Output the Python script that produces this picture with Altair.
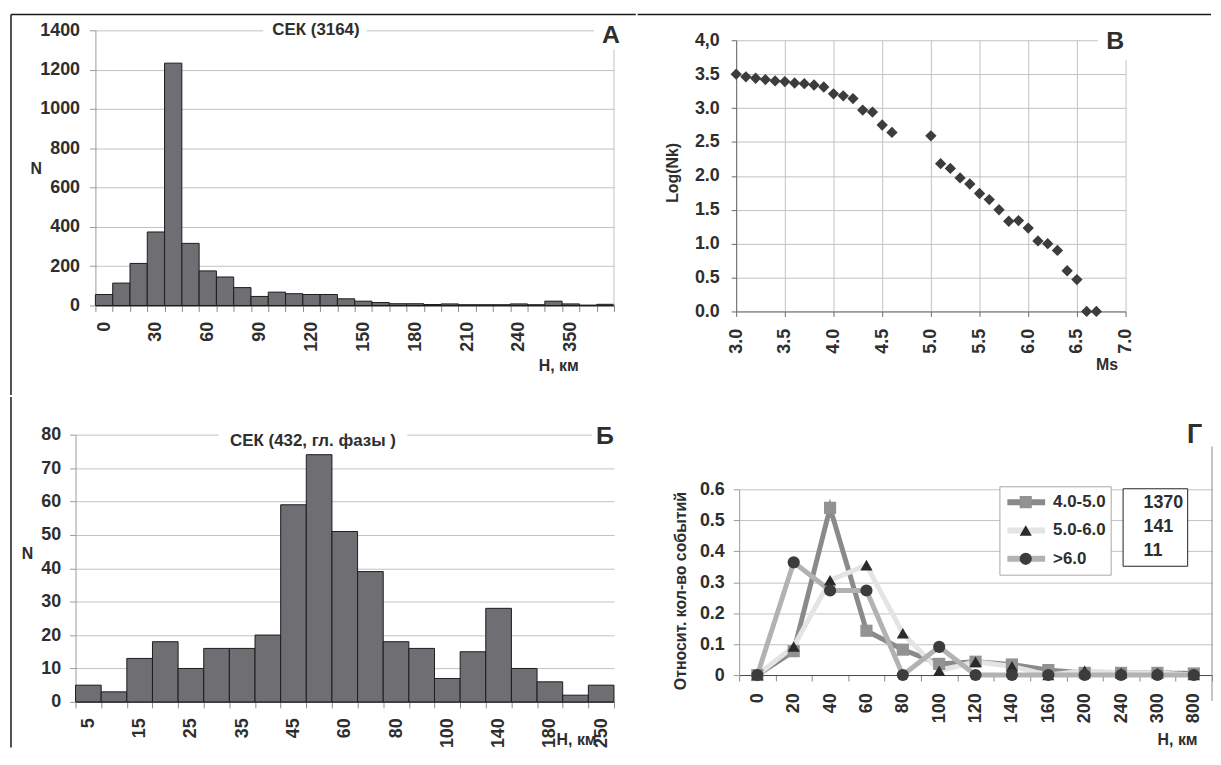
import altair as alt
import pandas as pd

FONT = "Liberation Sans"
TXT = "#2e2e2e"
GRID = "#c2c2c2"
BAR = "#6f6f73"
FRAME = "#1a1a1a"

# ---------- Panel А : depth histogram (all events) ----------
a_depth = ["0", "10", "20", "30", "40", "50", "60", "70", "80", "90", "100", "110", "120", "130",
           "140", "150", "160", "170", "180", "190", "200", "210", "220", "230", "240", "250",
           "300", "350", "400", "500"]
a_count = [56, 114, 214, 374, 1233, 316, 176, 145, 91, 46, 68, 60, 56, 56, 34, 22, 15, 9, 9, 5,
           8, 4, 4, 4, 8, 4, 22, 8, 2, 6]
a_shown = ["0", "30", "60", "90", "120", "150", "180", "210", "240", "350"]
a_yticks = [0, 200, 400, 600, 800, 1000, 1200, 1400]
a_title = "СЕК (3164)"
a_letter = "А"

# ---------- Panel В : magnitude recurrence ----------
b_ms = [3.0, 3.1, 3.2, 3.3, 3.4, 3.5, 3.6, 3.7, 3.8, 3.9, 4.0, 4.1, 4.2, 4.3, 4.4, 4.5, 4.6,
        5.0, 5.1, 5.2, 5.3, 5.4, 5.5, 5.6, 5.7, 5.8, 5.9, 6.0, 6.1, 6.2, 6.3, 6.4, 6.5, 6.6, 6.7]
b_logn = [3.50, 3.46, 3.44, 3.42, 3.40, 3.39, 3.37, 3.36, 3.34, 3.31, 3.21, 3.18, 3.14, 2.97,
          2.94, 2.75, 2.64, 2.59, 2.18, 2.11, 1.97, 1.88, 1.74, 1.65, 1.50, 1.33, 1.34, 1.23,
          1.04, 1.00, 0.90, 0.60, 0.47, 0.00, 0.00]
b_xticks = [3.0, 3.5, 4.0, 4.5, 5.0, 5.5, 6.0, 6.5, 7.0]
b_yticks = [0.0, 0.5, 1.0, 1.5, 2.0, 2.5, 3.0, 3.5, 4.0]
b_letter = "В"

# ---------- Panel Б : depth histogram (main phases) ----------
bb_depth = ["5", "10", "15", "20", "25", "30", "35", "40", "45", "50", "60", "70", "80", "90",
            "100", "120", "140", "160", "180", "200", "250"]
bb_count = [5, 3, 13, 18, 10, 16, 16, 20, 59, 74, 51, 39, 18, 16, 7, 15, 28, 10, 6, 2, 5]
bb_shown = ["5", "15", "25", "35", "45", "60", "80", "100", "140", "180", "250"]
bb_yticks = [0, 10, 20, 30, 40, 50, 60, 70, 80]
bb_title = "СЕК (432, гл. фазы )"
bb_letter = "Б"

# ---------- Panel Г : relative depth distribution by magnitude ----------
g_depth = ["0", "20", "40", "60", "80", "100", "120", "140", "160", "200", "240", "300", "800"]
g_series = ["4.0-5.0", "5.0-6.0", ">6.0"]
g_marker_keys = ["m1", "m2", "m3"]
g_counts = ["1370", "141", "11"]
g_s1 = [0.0, 0.077, 0.54, 0.143, 0.082, 0.036, 0.043, 0.034, 0.016, 0.007, 0.007, 0.007, 0.005]
g_s2 = [0.0, 0.092, 0.306, 0.355, 0.135, 0.014, 0.043, 0.028, 0.0, 0.014, 0.007, 0.007, 0.0]
g_s3 = [0.0, 0.364, 0.273, 0.273, 0.0, 0.091, 0.0, 0.0, 0.0, 0.0, 0.0, 0.0, 0.0]
g_yticks = [0.0, 0.1, 0.2, 0.3, 0.4, 0.5, 0.6]
g_line_colors = ["#8a8a8a", "#e4e4e4", "#b2b2b2"]
g_marker_colors = ["#929292", "#2a2a2a", "#3c3c3c"]
g_shapes = ["square", "triangle-up", "circle"]
g_letter = "Г"


def js_list(vals):
    return "[" + ",".join("'" + v + "'" for v in vals) + "]"


def one(t=""):
    return pd.DataFrame({"t": [t]})


def text_at(t, x, y, size, align="center"):
    return alt.Chart(one(t)).mark_text(font=FONT, fontSize=size, fontWeight="bold", color=TXT,
                                       align=align, baseline="middle").encode(
        x=alt.value(x), y=alt.value(y), text="t:N")


def white_box(x, x2, y, y2):
    return alt.Chart(one()).mark_rect(color="white").encode(
        x=alt.value(x), x2=alt.value(x2), y=alt.value(y), y2=alt.value(y2))


def vrule(x, y, y2, color, w=1.0):
    return alt.Chart(one()).mark_rule(color=color, strokeWidth=w).encode(
        x=alt.value(x), y=alt.value(y), y2=alt.value(y2))


def hrule(x, x2, y, color, w=1.0):
    return alt.Chart(one()).mark_rule(color=color, strokeWidth=w).encode(
        x=alt.value(x), x2=alt.value(x2), y=alt.value(y))


def spacer():
    return alt.Chart(one()).mark_rect(color="white").encode(
        x=alt.value(0), x2=alt.value(1), y=alt.value(0), y2=alt.value(1)
    ).properties(width=1, height=1)


# ================= Panel А =================
A_W, A_H = 522, 277
df_a = pd.DataFrame({"depth": a_depth, "count": a_count})
xa = alt.X("depth:N", sort=a_depth, scale=alt.Scale(paddingInner=0, paddingOuter=0),
           axis=alt.Axis(title="Н, км", labelAngle=270, labelAlign="right", labelBaseline="middle",
                         labelExpr="indexof(" + js_list(a_shown) + ", datum.value) >= 0 ? datum.label : ''",
                         labelOverlap=False, tickBand="extent", grid=False, domainColor="#3a3a3a",
                         tickColor="#8a8a8a", tickSize=6, labelPadding=10, titleX=486, titleY=60,
                         titleAlign="right", titleBaseline="middle", titleAngle=0))
ya = alt.Y("count:Q", scale=alt.Scale(domain=[0, 1400], nice=False),
           axis=alt.Axis(values=a_yticks, format="d", title="N", titleAngle=0, titleX=-60, titleY=139,
                         titleAlign="center", titleBaseline="middle", domainColor="#9a9a9a",
                         tickColor="#9a9a9a", tickSize=6, labelPadding=10, gridColor=GRID))
bars_a = alt.Chart(df_a).mark_bar(color=BAR, stroke="#1c1c1c", strokeWidth=1).encode(x=xa, y=ya)
chart_a = alt.layer(
    bars_a,
    white_box(169, 273, -8, 8),
    text_at(a_title, 222, 0, 17),
    white_box(502, 532, -6, 6),
    text_at(a_letter, 519, 5, 25),
    vrule(A_W, 19, A_H, GRID),
    hrule(-85, 544, -16, FRAME, 1.5),
    vrule(-85, -16, 367, FRAME, 1.5),
).properties(width=A_W, height=A_H)

# ================= Panel В =================
B_W, B_H = 392, 273
df_b = pd.DataFrame({"ms": b_ms, "logn": b_logn})
xb = alt.X("ms:Q", scale=alt.Scale(domain=[3, 7], nice=False, zero=False),
           axis=alt.Axis(values=b_xticks, format=".1f", labelAngle=270, labelAlign="right",
                         labelBaseline="middle", title="Ms", titleX=384, titleY=53, titleAlign="right",
                         titleBaseline="middle", titleAngle=0, gridColor=GRID, domainColor="#6a6a6a",
                         tickColor="#6a6a6a", tickSize=5, labelPadding=12))
yb = alt.Y("logn:Q", scale=alt.Scale(domain=[0, 4], nice=False),
           axis=alt.Axis(values=b_yticks,
                         labelExpr="datum.value == 4 ? '4,0' : format(datum.value, '.1f')",
                         title="Log(Nk)", titleX=-64, titleY=133, titleAlign="center",
                         titleBaseline="middle", titleAngle=270, gridColor=GRID,
                         domainColor="#6a6a6a", tickColor="#6a6a6a", tickSize=5, labelPadding=12))
pts_b = alt.Chart(df_b).mark_point(shape="diamond", filled=True, size=130, color="#3c3c3c",
                                    opacity=1).encode(x=xb, y=yb)
chart_b = alt.layer(
    pts_b,
    white_box(364, 402, -7, 20),
    text_at(b_letter, 381.5, 1, 25),
    hrule(-99.2, 478, -26, FRAME, 1.5),
).properties(width=B_W, height=B_H)

# ================= Panel Б =================
BB_W, BB_H = 542, 269
df_bb = pd.DataFrame({"depth": bb_depth, "count": bb_count})
xbb = alt.X("depth:N", sort=bb_depth, scale=alt.Scale(paddingInner=0, paddingOuter=0),
            axis=alt.Axis(title="Н, км", labelAngle=270, labelAlign="right", labelBaseline="middle",
                          labelExpr="indexof(" + js_list(bb_shown) + ", datum.value) >= 0 ? datum.label : ''",
                          labelOverlap=False, tickBand="extent", grid=False, domainColor="#3a3a3a",
                          tickColor="#8a8a8a", tickSize=6, labelPadding=10, titleX=524, titleY=38,
                          titleAlign="right", titleBaseline="middle", titleAngle=0))
ybb = alt.Y("count:Q", scale=alt.Scale(domain=[0, 80], nice=False),
            axis=alt.Axis(values=bb_yticks, format="d", title="N", titleAngle=0, titleX=-49,
                          titleY=120, titleAlign="center", titleBaseline="middle",
                          domainColor="#9a9a9a", tickColor="#9a9a9a", tickSize=6, labelPadding=9,
                          gridColor=GRID))
bars_bb = alt.Chart(df_bb).mark_bar(color=BAR, stroke="#1c1c1c", strokeWidth=1).encode(x=xbb, y=ybb)
chart_bb = alt.layer(
    bars_bb,
    white_box(144, 334, -5, 16),
    text_at(bb_title, 239, 6, 17),
    white_box(520, 542, -6, 6),
    text_at(bb_letter, 533, 1.5, 25),
    vrule(-65, -38, 315, FRAME, 1.5),
).properties(width=BB_W, height=BB_H)

# ================= Panel Г =================
G_W, G_H = 476, 187
rows = []
for s, mk, c, vals in zip(g_series, g_marker_keys, g_counts, [g_s1, g_s2, g_s3]):
    for d, v in zip(g_depth, vals):
        rows.append({"series": s, "marker": mk, "n": c, "depth": d, "value": v})
df_g = pd.DataFrame(rows)

xg = alt.X("depth:N", sort=g_depth, bandPosition=0.5,
           scale=alt.Scale(type="band", paddingInner=0, paddingOuter=0),
           axis=alt.Axis(title="Н, км", labelAngle=270, labelAlign="right", labelBaseline="middle",
                         labelOverlap=False, tickBand="extent", grid=False, domainColor="#4a4a4a",
                         tickColor="#8a8a8a", tickSize=6, labelPadding=12, titleX=461, titleY=65,
                         titleAlign="right", titleBaseline="middle", titleAngle=0))
yg = alt.Y("value:Q", scale=alt.Scale(domain=[0, 0.6], nice=False),
           axis=alt.Axis(values=g_yticks,
                         labelExpr="datum.value == 0 ? '0' : format(datum.value, '.1f')",
                         title="Относит. кол-во событий", titleX=-59, titleY=102,
                         titleAlign="center", titleBaseline="middle", titleAngle=270,
                         domainColor="#9a9a9a", tickColor="#9a9a9a", tickSize=6, labelPadding=9,
                         gridColor=GRID))

# legends are placed relative to the top-level origin
LX, LY = 997, 477
leg_lines = alt.Legend(title=None, orient="none", legendX=LX, legendY=LY, direction="vertical",
                       padding=5, fillColor="white", strokeColor="#a8a8a8", symbolType="stroke",
                       symbolSize=1444, symbolStrokeWidth=6, clipHeight=22, rowPadding=6.5,
                       labelFont=FONT, labelFontSize=17, labelFontWeight="bold", labelColor=TXT,
                       labelOffset=5)
leg_marks = alt.Legend(title=None, orient="none", legendX=LX, legendY=LY, direction="vertical",
                       padding=5, symbolSize=150, symbolOffset=13, symbolStrokeWidth=0,
                       clipHeight=22, rowPadding=6.5, labelExpr="''", labelFontSize=17)
leg_counts = alt.Legend(title=None, orient="none", legendX=LX + 124, legendY=LY + 2,
                        direction="vertical", padding=3, fillColor="white", strokeColor="#222222",
                        symbolType="circle", symbolSize=0, symbolOpacity=0, symbolStrokeWidth=0,
                        clipHeight=23, rowPadding=1.5, labelOffset=0,
                        labelFont=FONT, labelFontSize=18, labelFontWeight="bold", labelColor=TXT)

lines_g = alt.Chart(df_g).mark_line(strokeWidth=5).encode(
    x=xg, y=yg,
    color=alt.Color("series:N", scale=alt.Scale(domain=g_series, range=g_line_colors), legend=leg_lines),
    strokeDash=alt.StrokeDash("n:N", scale=alt.Scale(domain=g_counts, range=[[1, 0], [1, 0], [1, 0]]),
                              legend=leg_counts),
)
pts_g = alt.Chart(df_g).mark_point(filled=True, size=150, opacity=1).encode(
    x=xg, y=yg,
    fill=alt.Fill("marker:N", scale=alt.Scale(domain=g_marker_keys, range=g_marker_colors), legend=leg_marks),
    shape=alt.Shape("marker:N", scale=alt.Scale(domain=g_marker_keys, range=g_shapes), legend=leg_marks),
)
chart_g = alt.layer(
    lines_g,
    pts_g,
    text_at(g_letter, 458.5, -55, 27),
    vrule(G_W, -43, 213, "#8a8a8a"),
    hrule(-122.4, -121.4, -83.4, "white", 1.0),
).properties(width=G_W, height=G_H)

# ================= Layout (3x3 flow grid; first row/column are 1px spacers) =================
chart = alt.concat(
    spacer(), spacer(), spacer(),
    spacer(), chart_a, chart_b,
    spacer(), chart_bb, chart_g,
    columns=3, spacing=0, align="none", bounds="full",
).properties(
    padding={"left": 1, "top": 2, "right": 0, "bottom": 0}
).configure_view(stroke=None).configure_axis(
    labelFont=FONT, labelFontSize=18, labelFontWeight="bold", labelColor=TXT,
    titleFont=FONT, titleFontSize=16, titleFontWeight="bold", titleColor=TXT,
)

chart.save("out.html", embed_options={"renderer": "svg", "actions": False})
